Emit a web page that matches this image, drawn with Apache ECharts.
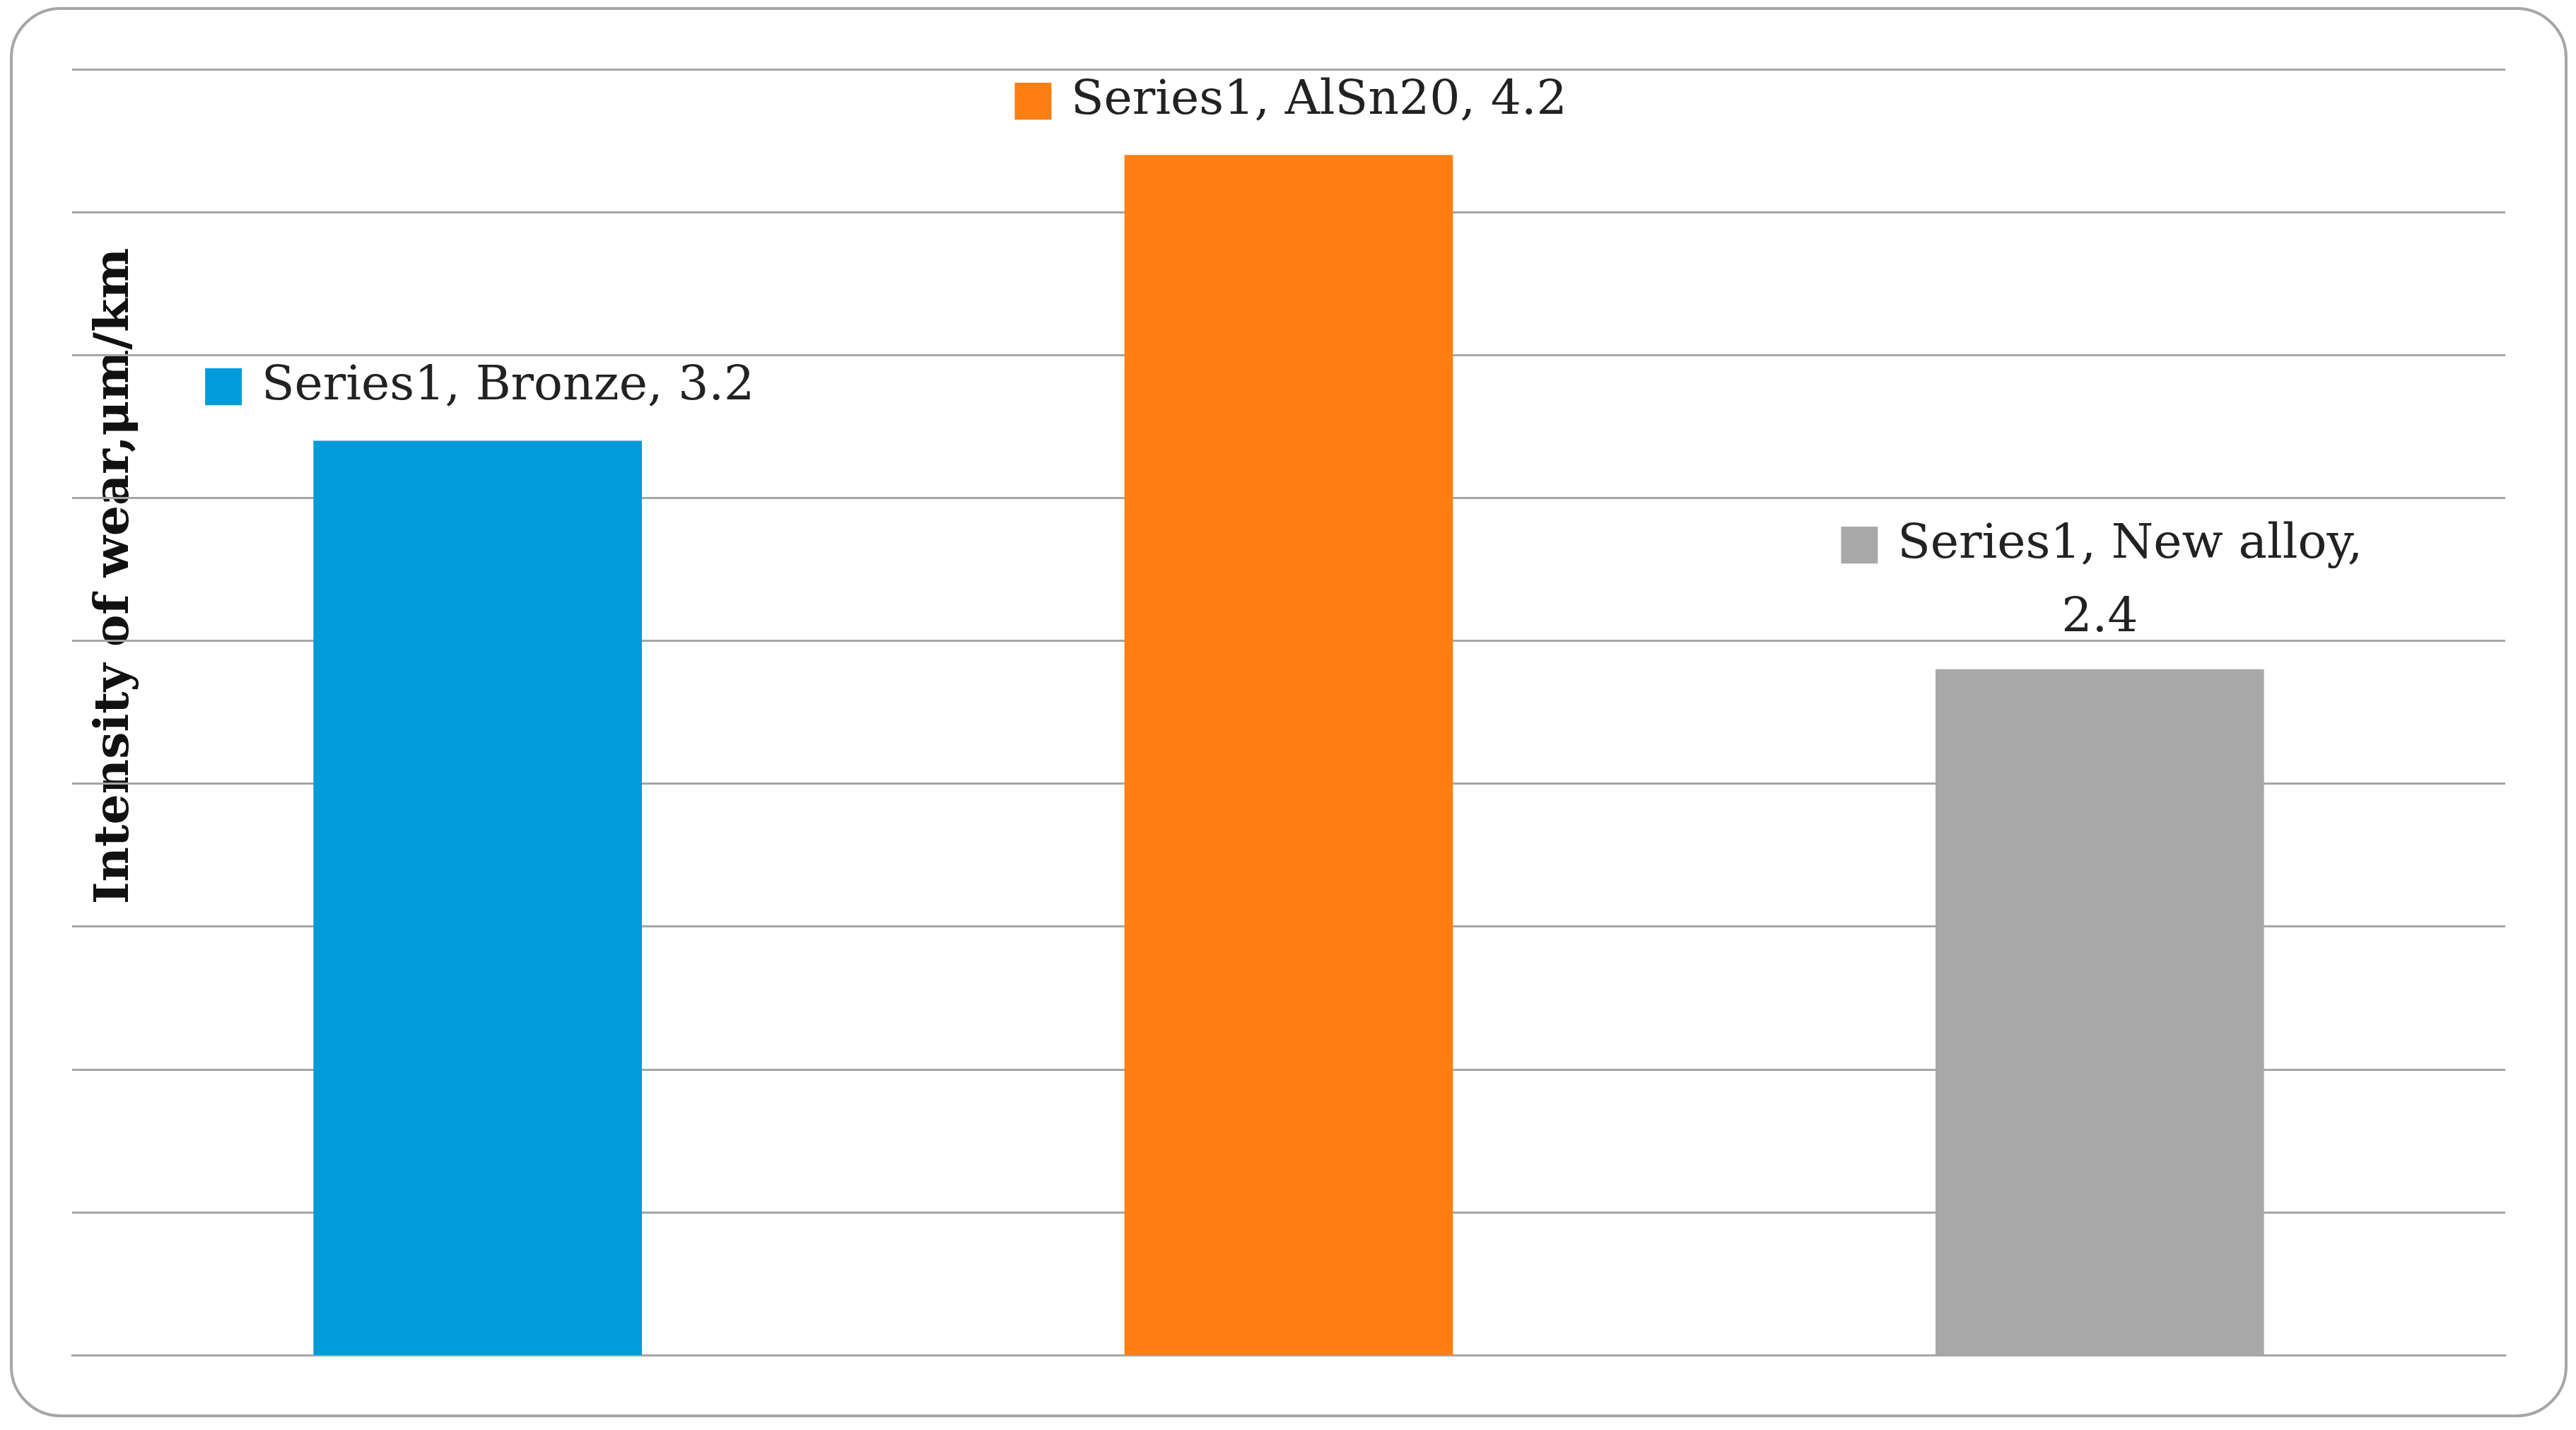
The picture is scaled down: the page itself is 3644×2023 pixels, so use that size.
<!DOCTYPE html>
<html>
<head>
<meta charset="utf-8">
<script src="https://cdn.jsdelivr.net/npm/echarts@6/dist/echarts.min.js"></script>
<style>
  html, body { margin: 0; padding: 0; background: #fff; }
  #chart { width: 3644px; height: 2023px; }
</style>
</head>
<body>
<div id="chart"></div>
<script>
const categories = ['Bronze', 'AlSn20', 'New alloy'];
const wearValues = [3.2, 4.2, 2.4];
const barColors = ['#009CD9', '#FF7F12', '#A8A8A8'];
const labelTexts = ['Series1, Bronze, 3.2', 'Series1, AlSn20, 4.2', 'Series1, New alloy,\n2.4'];

const chart = echarts.init(document.getElementById('chart'));
const serif = '"DejaVu Serif", "Liberation Serif", serif';

chart.setOption({
  animation: false,
  grid: { left: 102, right: 100, top: 98, bottom: 106 },
  xAxis: {
    type: 'category',
    data: categories,
    axisLine: { lineStyle: { color: '#A6A6A6', width: 3 } },
    axisTick: { show: false },
    axisLabel: { show: false }
  },
  yAxis: {
    type: 'value',
    min: 0,
    max: 4.5,
    interval: 0.5,
    axisLabel: { show: false },
    axisLine: { show: false },
    splitLine: { lineStyle: { color: '#A6A6A6', width: 3 } }
  },
  series: [{
    type: 'bar',
    barWidth: '40.5%',
    data: wearValues.map((v, i) => ({
      value: v,
      itemStyle: { color: barColors[i] },
      label: {
        show: true,
        position: 'top',
        distance: i === 2 ? 20 : 24,
        align: 'center',
        formatter: '{sq|■} ' + labelTexts[i].replace('\n', '\n'),
        color: '#222',
        fontFamily: serif,
        fontSize: 68,
        lineHeight: 104,
        rich: { sq: { color: barColors[i], fontSize: 68, fontFamily: serif } }
      }
    }))
  }],
  graphic: [
    {
      type: 'rect',
      shape: { x: 16, y: 12, width: 3614, height: 1991, r: 70 },
      style: { fill: 'none', stroke: '#A6A6A6', lineWidth: 4 },
      z: -1
    },
    {
      type: 'text',
      x: 163,
      y: 815,
      rotation: Math.PI / 2,
      style: {
        text: 'Intensity of wear,μm/km',
        font: 'bold 68px ' + serif,
        fill: '#111',
        align: 'center',
        verticalAlign: 'middle'
      }
    }
  ]
});
</script>
</body>
</html>
